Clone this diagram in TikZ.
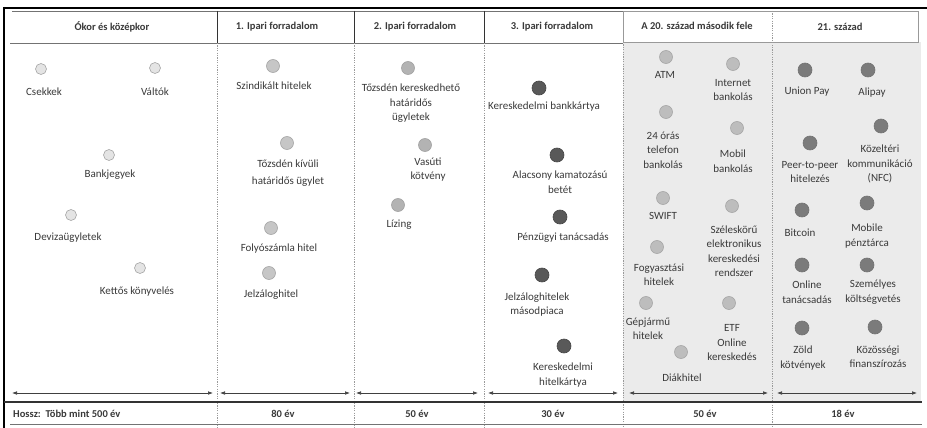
\documentclass[tikz,border=0pt]{standalone}
\usepackage{fontspec}
\setmainfont{Carlito}
\usetikzlibrary{arrows.meta}
\definecolor{txt}{HTML}{3A3A3A}
\definecolor{bgg}{HTML}{EBEBEB}
\definecolor{sep}{HTML}{9A9A9A}
\definecolor{fa}{HTML}{E4E4E4}
\definecolor{fb}{HTML}{C6C6C6}
\definecolor{fc}{HTML}{B3B3B3}
\definecolor{fd}{HTML}{595959}
\definecolor{fe}{HTML}{BDBDBD}
\definecolor{ff}{HTML}{7B7B7B}
\begin{document}
\begin{tikzpicture}[x=1pt,y=-1pt,
  lbl/.style={font=\fontsize{11}{14.5}\selectfont, text=txt, align=center, inner sep=0pt},
  hdr/.style={font=\bfseries\fontsize{10.5}{13}\selectfont, text=txt, inner sep=0pt},
  dotbase/.style={circle, inner sep=0pt, minimum size=13pt, line width=0.6pt},
  dota/.style={dotbase, minimum size=11pt, fill=fa, draw=black!35},
  dotb/.style={dotbase, fill=fb, draw=black!35},
  dotc/.style={dotbase, fill=fc, draw=black!37},
  dotd/.style={dotbase, minimum size=14pt, fill=fd, draw=black!72},
  dote/.style={dotbase, fill=fe, draw=black!35},
  dotf/.style={dotbase, minimum size=14pt, fill=ff, draw=black!55},
  vsep/.style={draw=sep, line width=0.5pt, dash pattern=on 1.2pt off 1.2pt},
  span/.style={draw=black!75, line width=0.6pt, {Latex[length=5pt,width=3.6pt]}-{Latex[length=5pt,width=3.6pt]}}
]
\useasboundingbox (0,0) rectangle (927,428);
\fill[white] (0,0) rectangle (927,428);
% grey background of last two eras
\fill[bgg] (623,42) rectangle (921,402);
% header box of last two eras
\draw[fill=white, draw=black!40, line width=0.7pt] (623,11) rectangle (918,42);
% header lines of first four eras
\draw[black!55, line width=0.9pt] (12,11) -- (623,11);
\draw[black!55, line width=0.9pt] (10,43) -- (623,43);
\foreach \xx in {217,354,484} \draw[black!80, line width=1pt] (\xx,11) -- (\xx,43);
% vertical separators
\foreach \xx in {217,354,484} \draw[vsep] (\xx,43) -- (\xx,428);
\draw[vsep] (623,42) -- (623,428);
\draw[vsep] (772,11) -- (772,428);
% outer frame
\draw[black, line width=2pt] (4,8) -- (927,8);
\draw[black, line width=2pt] (4,7) -- (4,428);
% bottom row lines
\draw[black!80, line width=1.3pt] (4,402) -- (922,402);
\draw[black!55, line width=0.9pt] (10,424) -- (922,424);

% headers
\node[hdr] (h1) at (112,27) {Ókor és középkor};
\node[hdr] (h2) at (277,27) {1. Ipari forradalom};
\node[hdr] (h3) at (415,27) {2. Ipari forradalom};
\node[hdr] (h4) at (552,27) {3. Ipari forradalom};
\node[hdr] (h5) at (697,26) {A 20. század második fele};
\node[hdr] (h6) at (840,27) {21. század};

% column 1
\node[dota] (c11) at (41,69) {};   \node[lbl] (l11) at (44,92) {Csekkek};
\node[dota] (c12) at (155,68) {};  \node[lbl] (l12) at (155,92) {Váltók};
\node[dota] (c13) at (109,155) {}; \node[lbl] (l13) at (110,175) {Bankjegyek};
\node[dota] (c14) at (71,215) {};  \node[lbl] (l14) at (68,238) {Devizaügyletek};
\node[dota] (c15) at (140,268) {}; \node[lbl] (l15) at (137,292) {Kettős könyvelés};

% column 2
\node[dotb] (c21) at (273,66) {};  \node[lbl] (l21) at (274,86) {Szindikált hitelek};
\node[dotb] (c22) at (287,143) {}; \node[lbl, font=\fontsize{11}{17}\selectfont] (l22) at (288,173.5) {Tőzsdén kívüli\\határidős ügylet};
\node[dotb] (c23) at (271,228) {}; \node[lbl] (l23) at (279,249) {Folyószámla hitel};
\node[dotb] (c24) at (269,273) {}; \node[lbl] (l24) at (271,295) {Jelzáloghitel};

% column 3
\node[dotc] (c31) at (408,68) {};  \node[lbl] (l31) at (411,103.5) {Tőzsdén kereskedhető\\határidős\\ügyletek};
\node[dotc] (c32) at (425,145) {}; \node[lbl] (l32) at (428,169.5) {Vasúti\\kötvény};
\node[dotc] (c33) at (398,205) {}; \node[lbl] (l33) at (399,225) {Lízing};

% column 4
\node[dotd] (c41) at (539,88) {};  \node[lbl] (l41) at (544,107) {Kereskedelmi bankkártya};
\node[dotd] (c42) at (557,155) {}; \node[lbl] (l42) at (560,182) {Alacsony kamatozású\\betét};
\node[dotd] (c43) at (560,217) {}; \node[lbl] (l43) at (563,238) {Pénzügyi tanácsadás};
\node[dotd] (c44) at (542,275) {}; \node[lbl] (l44) at (537,304.5) {Jelzáloghitelek\\másodpiaca};
\node[dotd] (c45) at (564,346) {}; \node[lbl] (l45) at (563,375) {Kereskedelmi\\hitelkártya};

% column 5
\node[dote] (c51) at (666,57) {};  \node[lbl] (l51) at (665,75) {ATM};
\node[dote] (c52) at (733,64) {};  \node[lbl] (l52) at (733,90) {Internet\\bankolás};
\node[dote] (c53) at (666,112) {}; \node[lbl] (l53) at (663,150) {24 órás\\telefon\\bankolás};
\node[dote] (c54) at (737,128) {}; \node[lbl] (l54) at (733,161) {Mobil\\bankolás};
\node[dote] (c55) at (663,198) {}; \node[lbl] (l55) at (663,216) {SWIFT};
\node[dote] (c56) at (732,206) {}; \node[lbl] (l56) at (734,251) {Széleskörű\\elektronikus\\kereskedési\\rendszer};
\node[dote] (c57) at (657,247) {}; \node[lbl] (l57) at (659,275) {Fogyasztási\\hitelek};
\node[dote] (c58) at (646,303) {}; \node[lbl] (l58) at (648,329) {Gépjármű\\hitelek};
\node[dote] (c59) at (729,303) {}; \node[lbl] (l59) at (732,343) {ETF\\Online\\kereskedés};
\node[dote] (c50) at (681,352) {}; \node[lbl] (l50) at (682,378) {Diákhitel};

% column 6
\node[dotf] (c61) at (805,70) {};  \node[lbl] (l61) at (807,92) {Union Pay};
\node[dotf] (c62) at (868,70) {};  \node[lbl] (l62) at (872,93) {Alipay};
\node[dotf] (c63) at (810,143) {}; \node[lbl] (l63) at (810,172) {Peer-to-peer\\hitelezés};
\node[dotf] (c64) at (881,126) {}; \node[lbl] (l64) at (880,164) {Közeltéri\\kommunikáció\\(NFC)};
\node[dotf] (c65) at (802,210) {}; \node[lbl] (l65) at (800,233) {Bitcoin};
\node[dotf] (c66) at (867,203) {}; \node[lbl] (l66) at (867,236) {Mobile\\pénztárca};
\node[dotf] (c67) at (802,265) {}; \node[lbl] (l67) at (807,292) {Online\\tanácsadás};
\node[dotf] (c68) at (867,265) {}; \node[lbl] (l68) at (873,292) {Személyes\\költségvetés};
\node[dotf] (c69) at (802,328) {}; \node[lbl] (l69) at (803,358) {Zöld\\kötvények};
\node[dotf] (c60) at (875,327) {}; \node[lbl] (l60) at (878,357) {Közösségi\\finanszírozás};

% span arrows
\coordinate (a1l) at (12,393);  \coordinate (a1r) at (213,393);
\coordinate (a2l) at (220,393); \coordinate (a2r) at (350,393);
\coordinate (a3l) at (356,393); \coordinate (a3r) at (478,393);
\coordinate (a4l) at (488,393); \coordinate (a4r) at (618,393);
\coordinate (a5l) at (629,393); \coordinate (a5r) at (768,393);
\coordinate (a6l) at (777,393); \coordinate (a6r) at (917,393);
\foreach \i in {1,...,6} \draw[span] (a\i l) -- (a\i r);

% durations
\node[hdr, anchor=west] (d1) at (13,413.5) {Hossz:\ \ Több mint 500 év};
\node[hdr] (d2) at (283,413.5) {80 év};
\node[hdr] (d3) at (417,413.5) {50 év};
\node[hdr] (d4) at (553,413.5) {30 év};
\node[hdr] (d5) at (705,413.5) {50 év};
\node[hdr] (d6) at (843,413.5) {18 év};
\end{tikzpicture}
\end{document}
